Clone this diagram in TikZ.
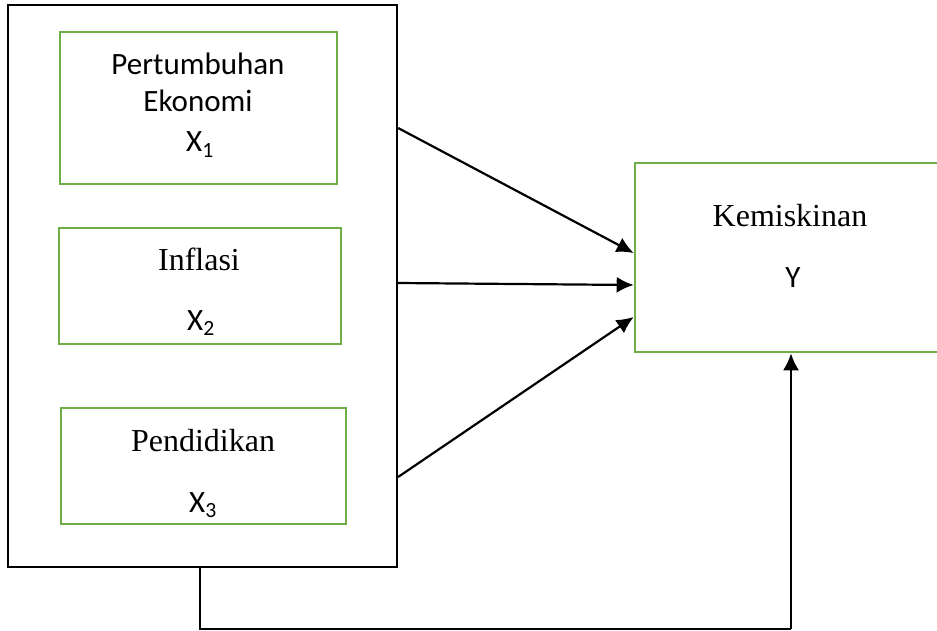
\documentclass[tikz,border=0pt]{standalone}
\usepackage{fontspec}
\setmainfont{Liberation Serif}
\newfontfamily\calibri{Carlito}
\usetikzlibrary{arrows.meta, positioning}

\definecolor{boxgreen}{HTML}{70AD47}

\tikzset{
  varbox/.style={draw=boxgreen, line width=2.6pt, rectangle, inner sep=0pt},
  outerbox/.style={draw=black, line width=2.2pt, rectangle, inner sep=0pt},
  lbl/.style={anchor=base, inner sep=0pt},
  sanslbl/.style={lbl, font=\calibri\fontsize{31}{37}\selectfont},
  seriflbl/.style={lbl, font=\fontsize{32}{38}\selectfont},
  link/.style={line width=2.2pt, -{Latex[length=17pt,width=16pt]}}
}

\begin{document}
\begin{tikzpicture}[x=1pt, y=-1pt]

\useasboundingbox (0,0) rectangle (937,631);
\clip (0,0) rectangle (937,631);

%\draw[step=50, gray!40] (0,0) grid (937,631);

% kotak besar dan kotak variabel
\node[outerbox, minimum width=389, minimum height=562] (frame) at (202.5,286) {};

\node[varbox, minimum width=277, minimum height=152] (ekonomi) at (198.5,108) {};
\node[varbox, minimum width=282, minimum height=116] (inflasi) at (200,286) {};
\node[varbox, minimum width=285, minimum height=116] (pendidikan) at (203.5,466) {};
\node[varbox, minimum width=310, minimum height=189] (miskin) at (790,257.5) {};

% teks
\node[sanslbl] (t1a) at (198,75) {Pertumbuhan};
\node[sanslbl] (t1b) at (198,112) {Ekonomi};
\node[sanslbl] (x1) at (200,152) {X\textsubscript{1}};

\node[seriflbl] (t2) at (199,270) {Inflasi};
\node[sanslbl] (x2) at (201,330) {X\textsubscript{2}};

\node[seriflbl] (t3) at (203,451) {Pendidikan};
\node[sanslbl] (x3) at (203,512) {X\textsubscript{3}};

\node[seriflbl] (ty) at (790,226) {Kemiskinan};
\node[sanslbl] (y) at (793,287) {Y};

% panah
\coordinate (a1) at (frame.east |- 0,128);
\coordinate (a2) at (frame.east |- 0,283);
\coordinate (a3) at (frame.east |- 0,477);
\coordinate (b1) at (miskin.west |- 0,253);
\coordinate (b2) at (miskin.west |- 0,285);
\coordinate (b3) at (miskin.west |- 0,317);

\foreach \i in {1,2,3}
  \draw[link] (a\i) -- (b\i);

\coordinate (down) at (frame.south -| 200,0);
\coordinate (corner) at (791,629);
\draw[line width=1.8pt] (down) |- (corner);
\draw[link] (corner) -- (miskin.south -| corner);

\end{tikzpicture}
\end{document}
